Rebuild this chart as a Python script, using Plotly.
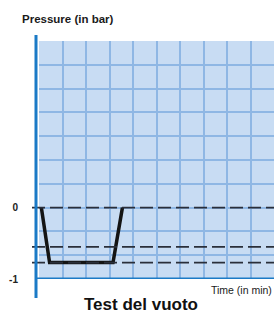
import plotly.graph_objects as go

# Data
time_min = [0.1, 0.45, 3.15, 3.55]
pressure_bar = [0.0, -0.77, -0.77, 0.0]
reference_levels = [0.0, -0.55, -0.77]
y_grid = [-1 + k / 3 for k in range(11)]
y_ticktext = ["-1", "", "", "0", "", "", "", "", "", "", ""]

W, H = 274, 313
L, R, T, B = 39, 0, 41, 34
pw, ph = W - L - R, H - T - B

fig = go.Figure()
fig.add_trace(go.Scatter(x=time_min, y=pressure_bar, mode="lines",
                         line=dict(color="#141414", width=3.5),
                         hoverinfo="skip", showlegend=False))

shapes = []
for lv in reference_levels:
    shapes.append(dict(type="line", xref="paper", yref="y", x0=-7 / pw, x1=1, y0=lv, y1=lv,
                       line=dict(color="#2a2f3a", width=1.6, dash="13px,5px"), layer="above"))
# vertical axis line
shapes.append(dict(type="line", xref="paper", yref="paper", x0=-3 / pw, x1=-3 / pw,
                   y0=-19 / ph, y1=1 + 6 / ph, line=dict(color="#1b7ac6", width=3), layer="above"))
# bottom axis line
shapes.append(dict(type="line", xref="paper", yref="y", x0=-3 / pw, x1=1, y0=-1, y1=-1,
                   line=dict(color="#1b7ac6", width=3), layer="above"))

fig.update_layout(
    width=W, height=H,
    margin=dict(l=L, r=R, t=T, b=B),
    paper_bgcolor="white",
    plot_bgcolor="#c8dcf3",
    shapes=shapes,
    xaxis=dict(range=[0, 10], dtick=1, tick0=0, showgrid=True, gridcolor="#8fb7e4", gridwidth=2,
               showticklabels=False, zeroline=False, showline=False, ticks="", fixedrange=True),
    yaxis=dict(range=[-1, 7 / 3], tickvals=y_grid, ticktext=y_ticktext, showgrid=True,
               gridcolor="#8fb7e4", gridwidth=2, zeroline=False, showline=False, ticks="",
               ticklabelstandoff=20, fixedrange=True,
               tickfont=dict(family="Liberation Sans, Arial, sans-serif", size=10, color="#222", weight="bold")),
    annotations=[
        dict(text="Pressure (in bar)", xref="paper", yref="paper", x=(20 - L) / pw, y=1 + (T - 19) / ph,
             xanchor="left", yanchor="middle", showarrow=False,
             font=dict(family="Liberation Sans, Arial, sans-serif", size=11.5, color="#1a1a1a", weight="bold")),
        dict(text="Time (in min)", xref="paper", yref="paper", x=1, y=-(289.5 - (H - B)) / ph,
             xanchor="right", yanchor="middle", showarrow=False,
             font=dict(family="Liberation Sans Narrow, Arial Narrow, sans-serif", size=10.5, color="#1a1a1a")),
        dict(text="Test del vuoto", xref="paper", yref="paper", x=(141 - L) / pw, y=-(304 - (H - B)) / ph,
             xanchor="center", yanchor="middle", showarrow=False,
             font=dict(family="Liberation Sans Narrow, Arial Narrow, sans-serif", size=17, color="#111", weight="bold")),
    ],
)

fig.write_html("out.html", config={"displayModeBar": False},
               post_script="document.body.style.margin='0';document.body.style.overflow='hidden';")
